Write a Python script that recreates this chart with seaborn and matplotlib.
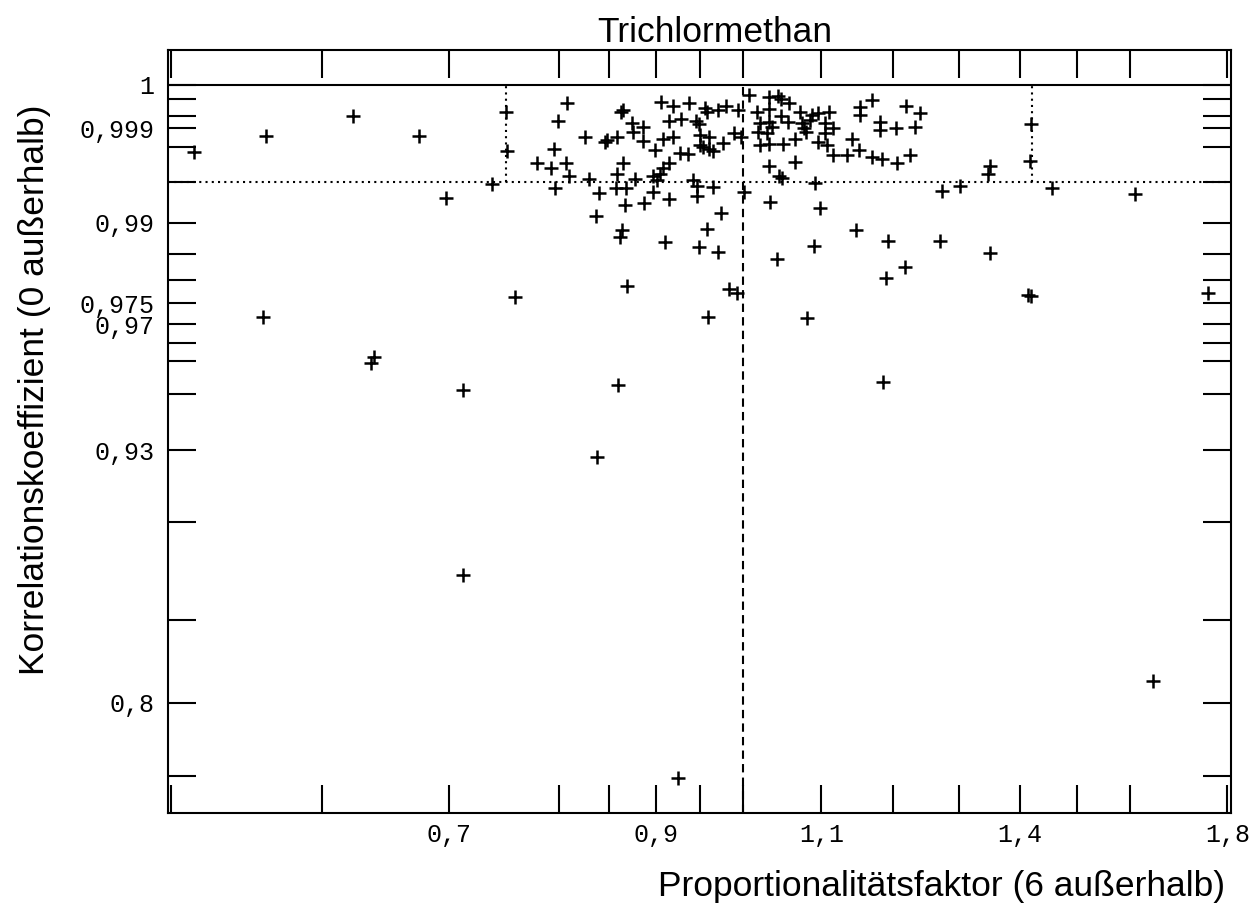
import numpy as np
import matplotlib
matplotlib.use("Agg")
import matplotlib.pyplot as plt
import seaborn as sns
from matplotlib.ticker import FixedLocator, FixedFormatter, NullLocator

# Proportionalitätsfaktor je Messreihe
faktor = [
    0.514, 0.561, 0.623, 0.675, 0.698, 0.738, 0.559, 0.639, 0.637, 0.712,
    0.712, 0.759, 0.838, 0.860, 0.869, 0.925, 0.959, 0.984, 0.993, 1.081,
    1.186, 1.190, 1.414, 1.418, 1.758, 1.645, 1.349, 1.610, 1.455, 1.418,
    1.416, 1.350, 1.346, 1.302, 1.273, 0.837, 0.867, 0.887, 0.914, 0.946,
    0.974, 0.864, 0.862, 0.910, 0.957, 0.948, 0.970, 1.034, 1.098, 1.147,
    1.192, 1.270, 1.090, 1.043, 1.217,
    0.750, 0.808, 0.799, 0.826, 0.863, 0.865, 0.874, 0.886, 0.875, 0.846,
    0.848, 0.859, 0.886, 0.906, 0.919, 0.937, 0.955, 0.914, 0.928, 0.945,
    0.948, 0.908, 0.919, 0.950, 0.960, 0.950, 0.960, 0.965, 0.899, 0.751,
    0.795, 0.927, 0.936, 0.779, 0.792, 0.807, 0.865, 0.914, 0.810, 0.859,
    0.908, 0.897, 0.830, 0.878, 0.904, 0.901, 0.796, 0.840, 0.858, 0.868,
    0.897, 0.942, 0.946, 0.964,
    1.007, 1.032, 1.044, 1.048, 1.058, 0.957, 0.971, 0.980, 0.994, 1.017,
    1.032, 1.047, 1.072, 1.087, 1.096, 1.110, 1.153, 1.170, 1.153, 1.219,
    1.240, 1.021, 1.032, 1.036, 1.057, 1.074, 1.085, 1.105, 1.077, 1.116,
    1.181, 1.204, 1.233, 1.181, 0.989, 0.998, 1.019, 1.030, 1.080, 1.105,
    1.021, 1.032, 1.050, 1.065, 0.953, 0.976, 1.096, 1.107, 1.141, 1.116,
    1.135, 1.152, 1.170, 1.184, 1.206, 1.225, 1.032, 1.065, 1.045, 1.049,
    1.092, 1.001,
]

# Korrelationskoeffizient je Messreihe
korrelation = [
    0.99763, 0.99860, 0.99949, 0.99860, 0.99329, 0.99484, 0.97179, 0.96123, 0.95951, 0.95127,
    0.87430, 0.97650, 0.92753, 0.95285, 0.97881, 0.74870, 0.97186, 0.97811, 0.97725, 0.97147,
    0.95379, 0.98052, 0.97688, 0.97672, 0.97725, 0.81410, 0.98524, 0.99372, 0.99445, 0.99918,
    0.99696, 0.99654, 0.99583, 0.99463, 0.99409, 0.99099, 0.99243, 0.99265, 0.99315, 0.99352,
    0.99135, 0.98896, 0.98792, 0.98701, 0.98908, 0.98618, 0.98542, 0.99284, 0.99201, 0.98896,
    0.98728, 0.98728, 0.98640, 0.98406, 0.98257,
    0.99962, 0.99983, 0.99932, 0.99855, 0.99962, 0.99967, 0.99922, 0.99905, 0.99885, 0.99830,
    0.99842, 0.99855, 0.99834, 0.99985, 0.99976, 0.99982, 0.99971, 0.99932, 0.99937, 0.99931,
    0.99918, 0.99844, 0.99855, 0.99868, 0.99859, 0.99810, 0.99784, 0.99767, 0.99777, 0.99770,
    0.99784, 0.99754, 0.99749, 0.99682, 0.99635, 0.99677, 0.99677, 0.99682, 0.99567, 0.99580,
    0.99635, 0.99564, 0.99538, 0.99535, 0.99580, 0.99525, 0.99445, 0.99383, 0.99439, 0.99439,
    0.99401, 0.99525, 0.99463, 0.99450,
    0.99994, 0.99992, 0.99993, 0.99990, 0.99983, 0.99962, 0.99967, 0.99976, 0.99967, 0.99962,
    0.99968, 0.99949, 0.99962, 0.99952, 0.99957, 0.99962, 0.99975, 0.99988, 0.99952, 0.99976,
    0.99957, 0.99922, 0.99928, 0.99908, 0.99928, 0.99922, 0.99935, 0.99922, 0.99901, 0.99901,
    0.99929, 0.99901, 0.99908, 0.99893, 0.99880, 0.99859, 0.99885, 0.99877, 0.99885, 0.99877,
    0.99810, 0.99816, 0.99816, 0.99844, 0.99799, 0.99820, 0.99830, 0.99810, 0.99844, 0.99742,
    0.99742, 0.99777, 0.99729, 0.99711, 0.99677, 0.99742, 0.99654, 0.99690, 0.99564, 0.99545,
    0.99498, 0.99401,
]

x_ticks = [0.5, 0.6, 0.7, 0.8, 0.85, 0.9, 0.95, 1.0, 1.1, 1.2, 1.3, 1.4, 1.5, 1.6, 1.8]
x_tick_labels = ["", "", "0,7", "", "", "0,9", "", "", "1,1", "", "", "1,4", "", "", "1,8"]

y_ticks = [0.75, 0.8, 0.85, 0.9, 0.93, 0.95, 0.96, 0.965, 0.97, 0.975, 0.98, 0.985,
           0.99, 0.995, 0.998, 0.999, 0.9995, 0.9999, 1.0]
y_tick_labels = ["", "0,8", "", "", "0,93", "", "", "", "0,97", "0,975", "", "",
                 "0,99", "", "", "0,999", "", "", "1"]

# Sollbereich
ziel_faktor = (0.75, 1.42)
ziel_korrelation = 0.995

sns.set_theme(style="white")
plt.rcParams['font.family'] = ['Liberation Sans', 'DejaVu Sans']
plt.rcParams['text.color'] = 'black'

W, H = 1251, 905
fig = plt.figure(figsize=(W / 100, H / 100), dpi=100)
ax = fig.add_axes([168 / W, 1 - 813 / H, (1231 - 168) / W, (813 - 50) / H])


def wurzel_vor(r):
    d = np.asarray(r, dtype=float) - 1.0
    return np.sign(d) * np.sqrt(np.abs(d))


def wurzel_rueck(u):
    u = np.asarray(u, dtype=float)
    return 1.0 + np.sign(u) * u * u


ax.set_xscale('log')
ax.set_yscale('function', functions=(wurzel_vor, wurzel_rueck))
ax.set_xlim(0.498, 1.808)
ax.set_ylim(0.7225, 1.00063)

lw = 1.5
ax.axhline(1.0, color='black', lw=lw, zorder=2)
ax.axhline(ziel_korrelation, color='black', lw=lw, ls=(0, (1, 2)), zorder=2)
for xv in ziel_faktor:
    ax.plot([xv, xv], [ziel_korrelation, 1.0], color='black', lw=lw, ls=(0, (1, 2)), zorder=2)
ax.plot([1.0, 1.0], [0.7225, 1.0], color='black', lw=lw, ls=(0, (4, 2.5)), zorder=2)

sns.scatterplot(x=faktor, y=korrelation, marker='+', color='black', s=115,
                linewidth=1.8, ax=ax, zorder=3, legend=False)

ax.xaxis.set_major_locator(FixedLocator(x_ticks))
ax.xaxis.set_major_formatter(FixedFormatter(x_tick_labels))
ax.xaxis.set_minor_locator(NullLocator())
ax.yaxis.set_major_locator(FixedLocator(y_ticks))
ax.yaxis.set_major_formatter(FixedFormatter(y_tick_labels))
ax.yaxis.set_minor_locator(NullLocator())

ax.tick_params(which='both', direction='in', length=20, width=lw, color='black',
               top=True, right=True, bottom=True, left=True,
               labeltop=False, labelright=False, labelsize=18,
               labelcolor='black', labelfontfamily='Liberation Mono')
ax.tick_params(axis='x', pad=7)
ax.tick_params(axis='y', pad=10)

for sp in ax.spines.values():
    sp.set_color('black')
    sp.set_linewidth(lw)
    sp.set_visible(True)

ax.set_xlabel("")
ax.set_ylabel("")
ax.grid(False)

fig.text(715 / W, 1 - 42 / H, "Trichlormethan", ha='center', va='baseline',
         fontsize=25.5, color='black')
fig.text(35 / W, 1 - 390 / H, "Korrelationskoeffizient (0 außerhalb)", rotation=90,
         ha='center', va='center', fontsize=25.5, color='black')
fig.text(1225 / W, 1 - 896 / H, "Proportionalitätsfaktor (6 außerhalb)",
         ha='right', va='baseline', fontsize=25.5, color='black')

fig.savefig("out.png", dpi=100, facecolor='white')
